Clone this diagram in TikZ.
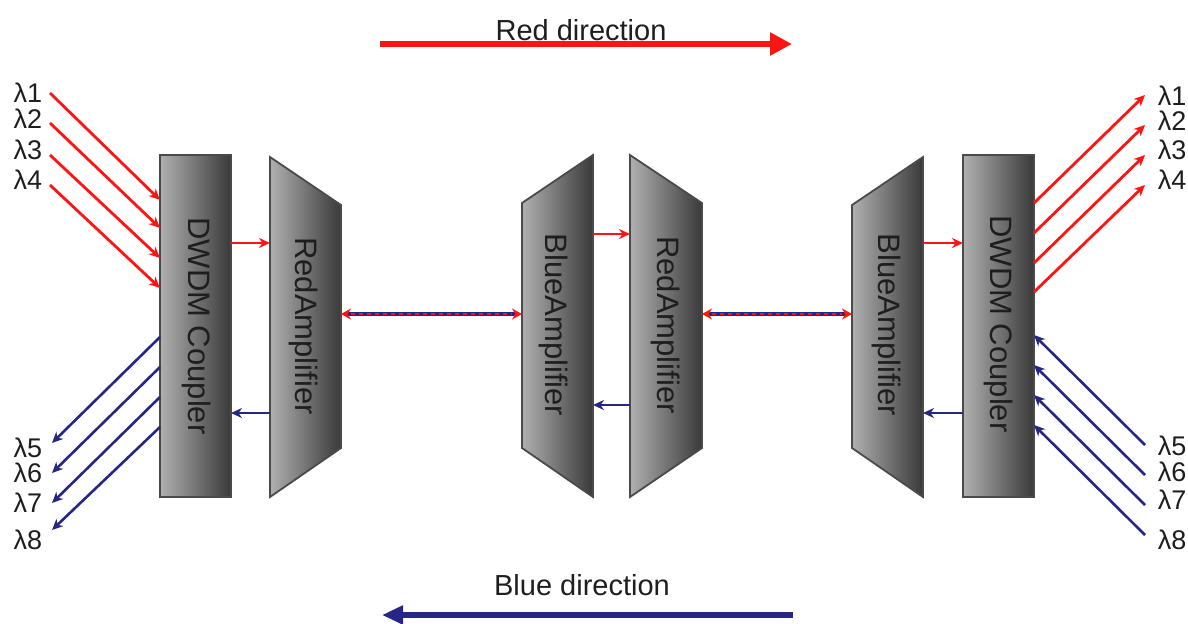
\documentclass[tikz,border=0pt]{standalone}
\usepackage{fontspec}
\setmainfont{Liberation Sans}
\usetikzlibrary{arrows.meta}
\definecolor{rd}{HTML}{FF1414}
\definecolor{bl}{HTML}{262684}
\definecolor{edge}{HTML}{4A4A4A}
\definecolor{txt}{HTML}{1E1E1E}
\tikzset{
  dev/.style={draw=edge, line width=0.9pt, left color=gray!62, right color=gray!45!black},
  lbl/.style={font=\fontsize{13.5}{15}\selectfont, text=txt, inner sep=0pt},
  vlbl/.style={font=\fontsize{15.5}{17}\selectfont, text=txt, rotate=-90, inner sep=0pt},
  dirlbl/.style={font=\fontsize{14.5}{17}\selectfont, text=txt, inner sep=0pt, anchor=base},
  rarr/.style={draw=rd, line width=1.4pt, -{Stealth[length=5.5pt,width=5pt]}},
  barr/.style={draw=bl, line width=1.3pt, -{Stealth[length=5.5pt,width=5pt]}},
  link/.style={draw=bl, line width=2.2pt, {Stealth[length=5pt,width=5.5pt,color=rd]}-{Stealth[length=5pt,width=5.5pt,color=rd]}},
  linkdash/.style={draw=rd, line width=1.1pt, dash pattern=on 2pt off 2pt, shorten <=5pt, shorten >=5pt},
}
\begin{document}
\begin{tikzpicture}[x=0.5pt,y=-0.5pt]
\useasboundingbox (0,0) rectangle (1188,623);

% direction arrows
\coordinate (rdS) at (380,44);
\coordinate (rdE) at (792,44);
\draw[rd, line width=3pt, -{Triangle[length=11pt,width=11pt]}] (rdS) -- (rdE);
\node[dirlbl] (rdL) at (581,40) {Red direction};

\coordinate (bdS) at (793,615);
\coordinate (bdE) at (382,615);
\node[dirlbl] (bdL) at (582,595) {Blue direction};
\draw[bl, line width=2.6pt, -{Triangle[length=10.5pt,width=9pt]}] (bdS) -- (bdE);

% devices
\path[dev] (160,155) rectangle (231,497);
\node[vlbl] (cL) at (197,326) {DWDM Coupler};
\path[dev] (270,157) -- (341,205) -- (341,448) -- (270,497) -- cycle;
\node[vlbl] (aL) at (304,326) {RedAmplifier};
\path[dev] (522,203) -- (593,155) -- (593,497) -- (522,448) -- cycle;
\node[vlbl] (bM) at (554,325) {BlueAmplifier};
\path[dev] (630,155) -- (702,203) -- (702,448) -- (630,497) -- cycle;
\node[vlbl] (aM) at (666,325) {RedAmplifier};
\path[dev] (852,205) -- (923,157) -- (923,497) -- (852,448) -- cycle;
\node[vlbl] (bR) at (887,325) {BlueAmplifier};
\path[dev] (963,155) rectangle (1034,497);
\node[vlbl] (cR) at (999,324) {DWDM Coupler};

% left wavelengths
\foreach \i/\ys/\ye/\ly in {1/93/200/93, 2/123/228/119, 3/155/258/150, 4/185/288/180}{
  \coordinate (lrs\i) at (50,\ys);
  \coordinate (lre\i) at (160,\ye);
  \draw[rarr] (lrs\i) -- (lre\i);
  \node[lbl] (lrl\i) at (28,\ly) {λ\i};
}
\foreach \i/\ys/\ye/\ly in {5/337/443/448, 6/367/473/473, 7/397/503/503, 8/427/530/540}{
  \coordinate (lbs\i) at (160,\ys);
  \coordinate (lbe\i) at (52,\ye);
  \draw[barr] (lbs\i) -- (lbe\i);
  \node[lbl] (lbl\i) at (28,\ly) {λ\i};
}
% right wavelengths
\foreach \i/\ys/\ye/\ly in {1/203/95/96, 2/233/125/121, 3/263/155/150, 4/292/185/180}{
  \coordinate (rrs\i) at (1034,\ys);
  \coordinate (rre\i) at (1145,\ye);
  \draw[rarr] (rrs\i) -- (rre\i);
  \node[lbl] (rrl\i) at (1172,\ly) {λ\i};
}
\foreach \i/\ys/\ye/\ly in {5/445/335/446, 6/475/365/472, 7/505/395/500, 8/535/425/540}{
  \coordinate (rbs\i) at (1145,\ys);
  \coordinate (rbe\i) at (1034,\ye);
  \draw[barr] (rbs\i) -- (rbe\i);
  \node[lbl] (rbl\i) at (1172,\ly) {λ\i};
}

% internal connectors
\coordinate (p1a) at (231,243); \coordinate (p1b) at (270,243);
\draw[rarr] (p1a) -- (p1b);
\coordinate (q1a) at (270,413); \coordinate (q1b) at (231,413);
\draw[barr] (q1a) -- (q1b);
\coordinate (p2a) at (593,234); \coordinate (p2b) at (630,234);
\draw[rarr] (p2a) -- (p2b);
\coordinate (q2a) at (630,405); \coordinate (q2b) at (593,405);
\draw[barr] (q2a) -- (q2b);
\coordinate (p3a) at (923,243); \coordinate (p3b) at (963,243);
\draw[rarr] (p3a) -- (p3b);
\coordinate (q3a) at (963,413); \coordinate (q3b) at (923,413);
\draw[barr] (q3a) -- (q3b);

% fibre links
\coordinate (f1a) at (341,314); \coordinate (f1b) at (522,314);
\draw[link] (f1a) -- (f1b);
\draw[linkdash] (f1a) -- (f1b);
\coordinate (f2a) at (702,314); \coordinate (f2b) at (852,314);
\draw[link] (f2a) -- (f2b);
\draw[linkdash] (f2a) -- (f2b);
\end{tikzpicture}
\end{document}
